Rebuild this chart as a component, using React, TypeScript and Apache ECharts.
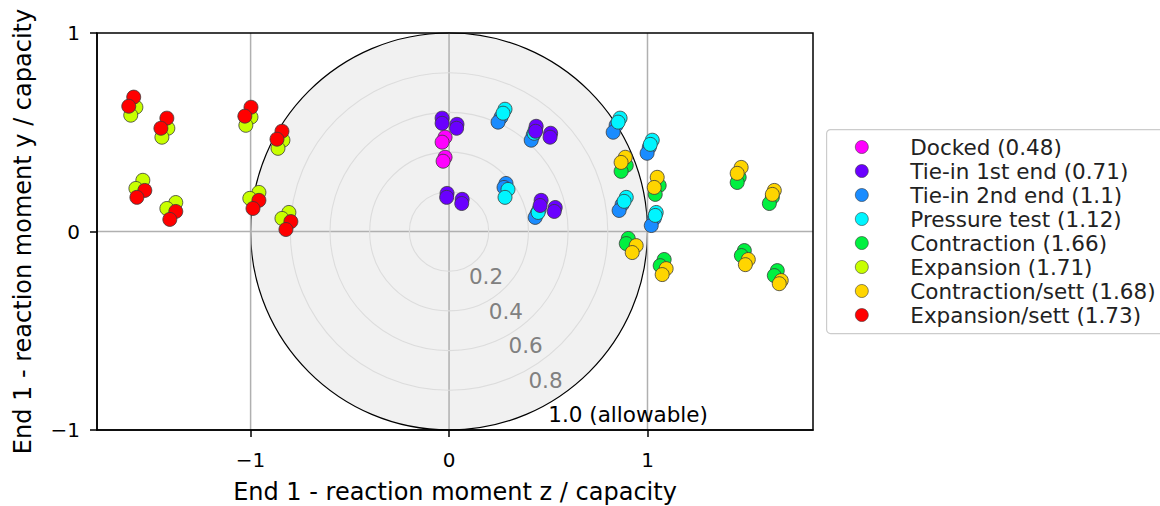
import React, { useEffect, useRef } from "react";
import * as echarts from "echarts";

// ---------- data ----------
const X_MIN = -1.774;
const X_MAX = 1.834;
const Y_MIN = -1;
const Y_MAX = 1;

const xTicks = [-1, 0, 1];
const yTicks = [-1, 0, 1];
const gridXValues = [-1, 0, 1];
const gridYValues = [0];

const rings = [0.2, 0.4, 0.6, 0.8, 1.0];
const ringLabels = ["0.2", "0.4", "0.6", "0.8", "1.0 (allowable)"];

const seriesNames = [
  "Docked (0.48)",
  "Tie-in 1st end (0.71)",
  "Tie-in 2nd end (1.1)",
  "Pressure test (1.12)",
  "Contraction (1.66)",
  "Expansion (1.71)",
  "Contraction/sett (1.68)",
  "Expansion/sett (1.73)",
];
const seriesColors = [
  "#ff00ff",
  "#6a00ff",
  "#1a8cff",
  "#00f5ff",
  "#00f040",
  "#c8ff00",
  "#ffd500",
  "#ff0000",
];
// draw order (stacking) per series
const seriesZ = [6, 5, 3, 4, 3, 3, 4, 4];

const dockedPts = [
  [-0.02, 0.475], [-0.035, 0.45], [-0.02, 0.374], [-0.03, 0.354],
];
const tieIn1Pts = [
  [-0.035, 0.571], [-0.035, 0.545], [0.04, 0.54], [0.038, 0.52],
  [-0.01, 0.192], [-0.012, 0.172], [0.066, 0.162], [0.064, 0.141],
  [0.439, 0.53], [0.436, 0.505], [0.512, 0.495], [0.509, 0.475],
  [0.464, 0.157], [0.459, 0.131], [0.535, 0.121], [0.53, 0.101],
];
const tieIn2Pts = [
  [0.262, 0.576], [0.247, 0.551], [0.424, 0.485], [0.414, 0.46],
  [0.287, 0.242], [0.277, 0.222], [0.444, 0.091], [0.434, 0.071],
  [0.842, 0.535], [0.827, 0.5], [1.009, 0.424], [0.998, 0.394],
  [0.872, 0.136], [0.857, 0.106], [1.034, 0.066], [1.019, 0.03],
];
const pressurePts = [
  [0.282, 0.616], [0.272, 0.596], [0.434, 0.51], [0.429, 0.495],
  [0.297, 0.212], [0.282, 0.172], [0.454, 0.111], [0.449, 0.096],
  [0.862, 0.571], [0.852, 0.551], [1.024, 0.46], [1.014, 0.439],
  [0.893, 0.172], [0.882, 0.152], [1.044, 0.096], [1.039, 0.081],
];
const contractionPts = [
  [0.893, 0.333], [0.867, 0.303], [1.059, 0.232], [1.039, 0.187],
  [0.903, -0.035], [0.893, -0.061], [1.084, -0.141], [1.064, -0.172],
  [1.462, 0.273], [1.452, 0.247], [1.629, 0.172], [1.614, 0.141],
  [1.488, -0.096], [1.473, -0.121], [1.654, -0.197], [1.639, -0.222],
];
const expansionPts = [
  [-1.578, 0.626], [-1.604, 0.586], [-1.417, 0.52], [-1.447, 0.475],
  [-0.998, 0.576], [-1.024, 0.535], [-0.837, 0.46], [-0.862, 0.419],
  [-1.543, 0.258], [-1.578, 0.217], [-1.377, 0.146], [-1.422, 0.116],
  [-0.958, 0.197], [-1.004, 0.167], [-0.807, 0.096], [-0.842, 0.066],
];
const contractionSettPts = [
  [0.888, 0.374], [0.867, 0.348], [1.049, 0.273], [1.034, 0.222],
  [0.943, -0.071], [0.923, -0.106], [1.094, -0.187], [1.074, -0.217],
  [1.472, 0.323], [1.452, 0.293], [1.639, 0.207], [1.629, 0.187],
  [1.508, -0.141], [1.493, -0.167], [1.674, -0.247], [1.664, -0.263],
];
const expansionSettPts = [
  [-1.589, 0.677], [-1.614, 0.631], [-1.422, 0.571], [-1.452, 0.52],
  [-0.998, 0.626], [-1.029, 0.581], [-0.842, 0.505], [-0.867, 0.465],
  [-1.533, 0.207], [-1.573, 0.172], [-1.377, 0.101], [-1.407, 0.061],
  [-0.958, 0.157], [-0.988, 0.116], [-0.797, 0.05], [-0.822, 0.01],
];

const seriesPoints = [
  dockedPts,
  tieIn1Pts,
  tieIn2Pts,
  pressurePts,
  contractionPts,
  expansionPts,
  contractionSettPts,
  expansionSettPts,
];

// ---------- chart ----------
const FONT = "DejaVu Sans";
const LABEL_ANGLE = (-60 * Math.PI) / 180;

const fmtTick = (v: number) => (v < 0 ? "\u2212" + Math.abs(v) : String(v));

export default function App() {
  const ref = useRef<HTMLDivElement>(null);

  useEffect(() => {
    if (!ref.current) return;
    const chart = echarts.init(ref.current, undefined, { renderer: "svg" });

    const discSeries: any = {
      type: "custom",
      coordinateSystem: "cartesian2d",
      silent: true,
      z: -3,
      clip: false,
      data: [[0, 0, 1]],
      renderItem: (params: any, api: any) => {
        const c = api.coord([api.value(0), api.value(1)]);
        const s = api.size([api.value(2) * 2, api.value(2) * 2]);
        return {
          type: "ellipse",
          shape: { cx: c[0], cy: c[1], rx: s[0] / 2, ry: s[1] / 2 },
          style: { fill: "#f1f1f1", stroke: "#000000", lineWidth: 1.2 },
        };
      },
    };

    const vGridSeries: any = {
      type: "custom",
      coordinateSystem: "cartesian2d",
      silent: true,
      z: -2,
      data: gridXValues.map((v) => [v, 0]),
      renderItem: (params: any, api: any) => {
        const x = api.coord([api.value(0), 0])[0];
        const cs = params.coordSys;
        return {
          type: "line",
          shape: { x1: x, y1: cs.y, x2: x, y2: cs.y + cs.height },
          style: { stroke: "#b0b0b0", lineWidth: 1.5 },
        };
      },
    };

    const hGridSeries: any = {
      type: "custom",
      coordinateSystem: "cartesian2d",
      silent: true,
      z: -2,
      data: gridYValues.map((v) => [0, v]),
      renderItem: (params: any, api: any) => {
        const y = api.coord([0, api.value(1)])[1];
        const cs = params.coordSys;
        return {
          type: "line",
          shape: { x1: cs.x, y1: y, x2: cs.x + cs.width, y2: y },
          style: { stroke: "#b0b0b0", lineWidth: 1.5 },
        };
      },
    };

    const ringSeries: any = {
      type: "custom",
      coordinateSystem: "cartesian2d",
      silent: true,
      z: -1,
      clip: false,
      data: rings.map((r) => [r, 0]),
      renderItem: (params: any, api: any) => {
        const r = api.value(0);
        const c = api.coord([0, 0]);
        const s = api.size([r * 2, r * 2]);
        const lp = api.coord([r * Math.cos(LABEL_ANGLE), r * Math.sin(LABEL_ANGLE)]);
        const isOuter = r >= 1;
        const children: any[] = [];
        if (!isOuter) {
          children.push({
            type: "ellipse",
            shape: { cx: c[0], cy: c[1], rx: s[0] / 2, ry: s[1] / 2 },
            style: { fill: "none", stroke: "#dcdcdc", lineWidth: 1.1 },
          });
        }
        children.push({
          type: "text",
          x: lp[0],
          y: lp[1],
          style: {
            text: ringLabels[params.dataIndex],
            fill: isOuter ? "#000000" : "#808080",
            fontSize: 21.5,
            fontFamily: FONT,
            align: "left",
            verticalAlign: "top",
          },
        });
        return { type: "group", children };
      },
    };

    const scatterSeries = seriesNames.map((name, i) => ({
      name,
      type: "scatter",
      z: seriesZ[i],
      symbol: "circle",
      symbolSize: 14,
      data: seriesPoints[i],
      itemStyle: {
        color: seriesColors[i],
        borderColor: "#3a3a3a",
        borderWidth: 0.8,
        opacity: 1,
      },
      emphasis: { disabled: true },
    }));

    const axisCommon = {
      type: "value",
      nameLocation: "middle",
      nameTextStyle: { fontSize: 24, fontFamily: FONT, color: "#000" },
      splitLine: { show: false },
      axisLine: { show: true, onZero: false, lineStyle: { color: "#000", width: 1.5 } },
      axisTick: { show: true, length: 7, inside: false, lineStyle: { color: "#000", width: 1.5 } },
    };

    chart.setOption({
      animation: false,
      backgroundColor: "#ffffff",
      grid: {
        left: 97,
        right: 1160 - 97 - 716,
        top: 33,
        bottom: 76,
        show: true,
        borderColor: "#000000",
        borderWidth: 1.5,
        backgroundColor: "transparent",
        containLabel: false,
        outerBoundsMode: "none",
      },
      xAxis: {
        ...axisCommon,
        min: X_MIN,
        max: X_MAX,
        name: "End 1 - reaction moment z / capacity",
        nameGap: 50,
        axisTick: { ...axisCommon.axisTick, customValues: xTicks },
        axisLabel: {
          customValues: xTicks,
          formatter: fmtTick,
          fontSize: 20,
          fontFamily: FONT,
          color: "#000",
          margin: 20,
        },
      },
      yAxis: {
        ...axisCommon,
        min: Y_MIN,
        max: Y_MAX,
        name: "End 1 - reaction moment y / capacity",
        nameGap: 62,
        axisTick: { ...axisCommon.axisTick, customValues: yTicks },
        axisLabel: {
          customValues: yTicks,
          formatter: fmtTick,
          fontSize: 20,
          fontFamily: FONT,
          color: "#000",
          margin: 17,
        },
      },
      legend: {
        data: seriesNames,
        orient: "vertical",
        left: 855,
        top: 136,
        padding: 0,
        icon: "circle",
        itemWidth: 13,
        itemHeight: 13,
        itemGap: 2.0,
        selectedMode: false,
        z: 10,
        itemStyle: { borderWidth: 0.6 },
        textStyle: {
          fontSize: 21.5,
          fontFamily: FONT,
          color: "#222",
          lineHeight: 21,
          padding: [0, 0, 0, 37],
        },
      },
      graphic: [
        {
          type: "rect",
          left: 826,
          top: 129,
          z: 1,
          shape: { width: 400, height: 204, r: 4 },
          style: { fill: "#ffffff", stroke: "#cccccc", lineWidth: 1.2 },
        },
      ],
      series: [discSeries, vGridSeries, hGridSeries, ringSeries, ...scatterSeries],
    });

    return () => chart.dispose();
  }, []);

  return (
    <div
      ref={ref}
      style={{ position: "fixed", left: 0, top: 0, width: 1160, height: 506 }}
    />
  );
}
